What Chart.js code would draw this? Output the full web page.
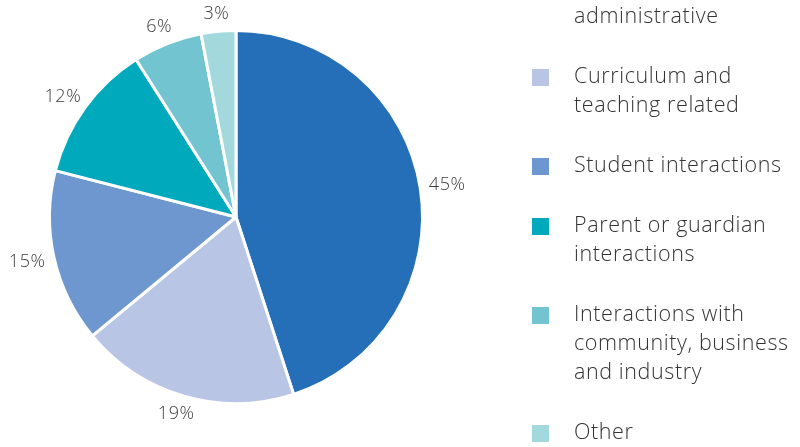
<!DOCTYPE html>
<html>
<head>
<meta charset="utf-8">
<script src="https://cdn.jsdelivr.net/npm/chart.js@4.4.1/dist/chart.umd.min.js"></script>
<style>
  html, body { margin: 0; padding: 0; background: #fff; overflow: hidden; }
  #wrap { position: relative; width: 800px; height: 447px; }
</style>
</head>
<body>
<div id="wrap"><canvas id="pie" width="800" height="447"></canvas></div>
<script>
// legend lines per category (first one runs off the top of the picture)
const categories = [
    ['Organisational and', 'administrative'],
    ['Curriculum and', 'teaching related'],
    ['Student interactions'],
    ['Parent or guardian', 'interactions'],
    ['Interactions with', 'community, business', 'and industry'],
    ['Other']
];
const shares = [45, 19, 15, 12, 6, 3];
const sliceColors = ['#246fb8', '#b9c5e4', '#6e97d0', '#00a9bc', '#72c4d0', '#a3d9dc'];

const fontFamily = "'Open Sans', Lato, sans-serif";

// percent labels outside each slice
const outsideLabels = {
    id: 'outsideLabels',
    afterDatasetsDraw(chart) {
        let ctx = chart.ctx;
        let meta = chart.getDatasetMeta(0);
        ctx.save();
        ctx.font = `300 18px ${fontFamily}`;
        ctx.letterSpacing = '0.6px';
        ctx.fillStyle = '#3c3c3c';
        ctx.textAlign = 'center';
        ctx.textBaseline = 'middle';
        meta.data.forEach((arc, i) => {
            let mid = (arc.startAngle + arc.endAngle) / 2;
            let text = shares[i] + '%';
            let halfW = ctx.measureText(text).width / 2;
            let r = arc.outerRadius + 9;
            let x = arc.x + Math.cos(mid) * r + Math.cos(mid) * halfW;
            let y = arc.y + Math.sin(mid) * r + Math.sin(mid) * 9;
            ctx.fillText(text, x, y);
        });
        ctx.restore();
    }
};

// legend on the right, drawn by hand so labels can wrap
const sideLegend = {
    id: 'sideLegend',
    afterDraw(chart) {
        let ctx = chart.ctx;
        ctx.save();
        ctx.font = `300 21.5px ${fontFamily}`;
        ctx.letterSpacing = '0.6px';
        ctx.textBaseline = 'middle';
        ctx.textAlign = 'left';
        let y = -12;
        categories.forEach((lines, i) => {
            ctx.fillStyle = sliceColors[i];
            ctx.fillRect(532, y - 8, 17, 17);
            ctx.fillStyle = '#333';
            lines.forEach((line, j) => {
                ctx.fillText(line, 574, y + j * 29);
            });
            y += lines.length * 29 + 31;
        });
        ctx.restore();
    }
};

new Chart(document.getElementById('pie'), {
    type: 'pie',
    data: {
        labels: categories.map(l => l.join(' ')),
        datasets: [{
            data: shares,
            backgroundColor: sliceColors,
            borderColor: '#fff',
            borderWidth: 3
        }]
    },
    options: {
        responsive: false,
        animation: false,
        layout: {
            padding: { left: 48, top: 29, right: 376, bottom: 42 }
        },
        plugins: {
            legend: { display: false },
            tooltip: { enabled: false }
        }
    },
    plugins: [outsideLabels, sideLegend]
});
</script>
</body>
</html>
